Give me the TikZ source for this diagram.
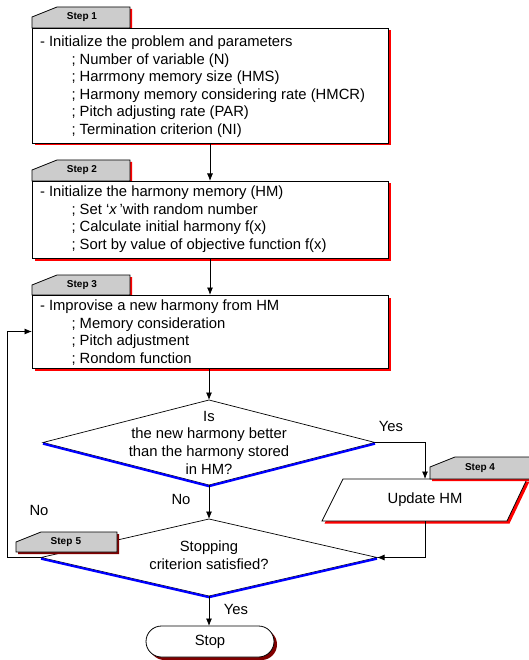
\documentclass[tikz,border=0pt]{standalone}
\usepackage{fontspec}
\setmainfont{Liberation Sans}
\usetikzlibrary{arrows.meta,shapes.geometric,shadows}
\definecolor{shred}{HTML}{FF0000}
\definecolor{shdark}{HTML}{800000}
\definecolor{tabgray}{HTML}{CCCCCC}
\definecolor{shblue}{HTML}{0000FF}
\newcommand{\steptab}[7]{%
  \begin{scope}[shift={(#1,#2)}]
    \fill[#6] (2,12) -- (27,2) -- (#3+2,2) -- (#3+2,#4+2) -- (2,#4+2) -- cycle;
    \filldraw[fill=tabgray, draw=black, line width=0.8pt] (0,10) -- (25,0) -- (#3,0) -- (#3,#4) -- (0,#4) -- cycle;
    \node[steplbl] (#7) at (50,#4/2) {#5};
  \end{scope}}
\begin{document}
\begin{tikzpicture}[x=1pt,y=-1pt,
  every node/.style={inner sep=0pt, outer sep=0pt},
  txt/.style={font=\fontsize{14.8}{17.6}\selectfont},
  boxtxt/.style={txt, anchor=base west, align=left},
  stepbox/.style={draw=black, fill=white, line width=0.9pt, rectangle,
    drop shadow={shadow xshift=2.5pt, shadow yshift=-2.5pt, fill=shred, opacity=1}},
  dia/.style={diamond, draw=black, fill=white, line width=0.7pt},
  conn/.style={line width=0.8pt, -{Latex[length=7.5pt,width=6pt]}},
  steplbl/.style={font=\fontsize{10}{12}\selectfont\bfseries},
]
\useasboundingbox[fill=white] (0,0) rectangle (528,660);

% tabs for steps 1-3
\steptab{32}{7}{98}{21}{Step 1}{shred}{t1}
\steptab{32}{160}{98}{21}{Step 2}{shred}{t2}
\steptab{32}{275}{98}{20}{Step 3}{shred}{t3}

% boxes
\node[stepbox, minimum width=356pt, minimum height=115pt] (b1) at (210,85.5) {};
\node[stepbox, minimum width=356pt, minimum height=77pt] (b2) at (210,219.5) {};
\node[stepbox, minimum width=356pt, minimum height=73pt] (b3) at (210,331.5) {};

% (multi-line nodes: base anchor = baseline of last line)
\node[boxtxt] (x1) at (40,134.5) {- Initialize the problem and parameters\\
  \hspace*{31.5pt}; Number of variable (N)\\
  \hspace*{31.5pt}; Harrmony memory size (HMS)\\
  \hspace*{31.5pt}; Harmony memory considering rate (HMCR)\\
  \hspace*{31.5pt}; Pitch adjusting rate (PAR)\\
  \hspace*{31.5pt}; Termination criterion (NI)};
\node[boxtxt] (x2) at (40,249.5) {- Initialize the harmony memory (HM)\\
  \hspace*{31.5pt}; Set ‘\textit{x}\,’with random number\\
  \hspace*{31.5pt}; Calculate initial harmony f(x)\\
  \hspace*{31.5pt}; Sort by value of objective function f(x)};
\node[boxtxt] (x3) at (40,363.3) {- Improvise a new harmony from HM\\
  \hspace*{31.5pt}; Memory consideration\\
  \hspace*{31.5pt}; Pitch adjustment\\
  \hspace*{31.5pt}; Rondom function};

% diamonds
\node[dia, minimum width=332pt, minimum height=85pt] (d1) at (209,442.5) {};
\draw[shblue, line width=2.2pt] ([yshift=-1.2pt]d1.west) -- ([yshift=-1.2pt]d1.south) -- ([yshift=-1.2pt]d1.east);
\node[txt, align=center, anchor=base] (q1) at (209,474) {Is\\the new harmony better\\than the harmony stored\\in HM?};

\node[dia, minimum width=336pt, minimum height=77pt] (d2) at (209,557.5) {};
\draw[shblue, line width=2.2pt] ([yshift=-1.2pt]d2.west) -- ([yshift=-1.2pt]d2.south) -- ([yshift=-1.2pt]d2.east);
\node[txt, align=center, anchor=base] (q2) at (209,569) {Stopping\\criterion satisfied?};

% update HM
\fill[shred] (345.5,481.5) -- (529.5,481.5) -- (509.5,523.5) -- (324.5,523.5) -- cycle;
\filldraw[fill=white, draw=black, line width=0.8pt] (343,479) -- (527,479) -- (507,521) -- (322,521) -- cycle;
\node[txt, minimum width=184pt, minimum height=42pt] (upd) at (425,500) {Update HM};

% stop
\node[txt, draw=black, fill=white, line width=0.8pt, rounded corners=15.5pt,
  minimum width=128pt, minimum height=31pt,
  drop shadow={shadow xshift=3pt, shadow yshift=-3pt, fill=shdark, opacity=1}] (stop) at (210,641.5) {Stop};

% connectors
\draw[conn] (b1.south) -- (b2.north);
\draw[conn] (b2.south) -- (b3.north);
\draw[conn] (b3.south -| d1.north) -- (d1.north);
\draw[conn] (d1.east) -| (upd.north);
\draw[conn] (d1.south) -- (d2.north);
\draw[conn] (upd.south) |- (d2.east);
\draw[conn] (d2.west) -- ++(-34,0) |- (b3.west);
\draw[conn] (d2.south) -- (d2.south |- stop.north);

% tabs for steps 4-5
\steptab{430}{457}{110}{22}{Step 4}{shred}{t4}
\steptab{16}{532}{101}{20}{Step\,\,5}{shdark}{t5}

% labels
\node[txt] (yes1) at (391,426) {Yes};
\node[txt] (no1) at (181,499) {No};
\node[txt] (no2) at (39,510.5) {No};
\node[txt] (yes2) at (236,609.5) {Yes};
\end{tikzpicture}
\end{document}
